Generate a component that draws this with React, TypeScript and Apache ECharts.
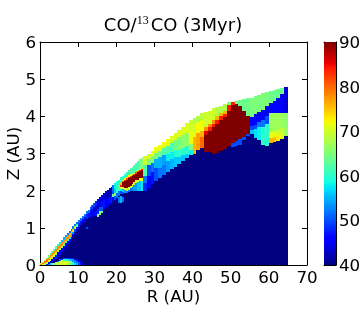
import React, { useEffect, useRef } from "react";
import * as echarts from "echarts";

const xTicks = [0, 70];
const zTicks = [0, 6];
const barRange = [40, 90];
const outerR = 65;
const FONT = "DejaVu Sans";

// Each row: [R, top of column, value, lower Z, value, lower Z, ...]; navy (40) fills below the last lower Z.
// A column runs from its R to the R of the next row.
const wedgeRows = [
  [0, 0.06, 70, 0.03, 78, 0],
  [0.5, 0.08, 66, 0.05, 80, 0.02, 70, 0],
  [1, 0.14, 66, 0.1, 80, 0.05, 70, 0],
  [1.5, 0.2, 66, 0.15, 80, 0.09, 70, 0.03, 48, 0],
  [2, 0.26, 64, 0.2, 78, 0.13, 72, 0.07, 46, 0.03, 52, 0],
  [2.5, 0.32, 64, 0.26, 78, 0.18, 70, 0.11, 44, 0.05, 56, 0],
  [3, 0.38, 64, 0.32, 78, 0.23, 70, 0.16, 44, 0.08, 40, 0.05, 62, 0],
  [3.5, 0.44, 62, 0.38, 78, 0.29, 70, 0.22, 46, 0.12, 40, 0.06, 66, 0],
  [4, 0.5, 62, 0.44, 78, 0.35, 68, 0.28, 48, 0.17, 40, 0.09, 68, 0],
  [4.5, 0.56, 60, 0.5, 78, 0.4, 68, 0.34, 46, 0.22, 40, 0.12, 52, 0.08, 69, 0],
  [5, 0.62, 58, 0.56, 78, 0.46, 66, 0.4, 46, 0.28, 40, 0.15, 50, 0.11, 70, 0],
  [5.5, 0.68, 56, 0.62, 78, 0.52, 66, 0.46, 46, 0.34, 40, 0.17, 50, 0.13, 70, 0],
  [6, 0.74, 55, 0.68, 78, 0.58, 64, 0.52, 46, 0.42, 40, 0.19, 50, 0.15, 60, 0.1, 71, 0],
  [6.5, 0.8, 54, 0.74, 78, 0.64, 62, 0.58, 46, 0.48, 40, 0.2, 50, 0.16, 60, 0.1, 70, 0],
  [7, 0.86, 52, 0.8, 78, 0.7, 60, 0.64, 46, 0.56, 40, 0.2, 48, 0.17, 58, 0.11, 68, 0],
  [7.5, 0.92, 52, 0.86, 77, 0.76, 58, 0.7, 45, 0.62, 40, 0.2, 48, 0.17, 56, 0.1, 66, 0],
  [8, 0.98, 52, 0.92, 76, 0.83, 56, 0.76, 45, 0.68, 40, 0.2, 48, 0.17, 55, 0.1, 64, 0],
  [8.5, 1.04, 52, 0.98, 74, 0.9, 54, 0.84, 44, 0.76, 40, 0.19, 47, 0.16, 54, 0.08, 60, 0],
  [9, 1.1, 52, 1.04, 70, 0.97, 50, 0.9, 44, 0.82, 40, 0.17, 46, 0.14, 53, 0.06, 57, 0],
  [9.5, 1.16, 52, 1.1, 62, 1.02, 48, 0.96, 43, 0.9, 40, 0.15, 46, 0.12, 52, 0.05, 55, 0],
  [10, 1.22, 52, 1.14, 48, 1.02, 43, 0.95, 40, 0.13, 45, 0.09, 50, 0],
  [10.5, 1.27, 52, 1.18, 47, 1.08, 40, 0.1, 45, 0.05, 47, 0],
  [11, 1.33, 52, 1.24, 46, 1.14, 40, 0.05, 44, 0],
  [11.5, 1.38, 52, 1.28, 46, 1.16, 40, 0.02, 43, 0],
];
const midRows = [
  [12, 1.44, 52, 1.36, 48, 1.24, 40, 1.03, 50, 0.97],
  [12.5, 1.49, 52, 1.4, 47, 1.27],
  [13, 1.55, 50, 1.44, 46, 1.28],
  [13.5, 1.61, 50, 1.5, 46, 1.3],
  [14, 1.67, 50, 1.56, 44, 1.42, 46, 1.32],
  [14.5, 1.72, 48, 1.6, 43, 1.46, 47, 1.32],
  [15, 1.78, 46, 1.62, 43, 1.5, 48, 1.38, 66, 1.28],
  [15.5, 1.83, 44, 1.66, 44, 1.55, 50, 1.44, 66, 1.34],
  [16, 1.88, 44, 1.7, 47, 1.56, 50, 1.46, 62, 1.4],
  [16.5, 1.93, 44, 1.74, 47, 1.5],
  [17, 1.98, 43, 1.76, 46, 1.55],
  [17.5, 2.02, 42, 1.8, 46, 1.6],
  [18, 2.07, 42, 1.84, 47, 1.64],
  [18.5, 2.11, 43, 1.9, 48, 1.68],
  [19, 2.15, 52, 2.0, 50, 1.9, 64, 1.82, 46, 1.72],
  [19.5, 2.2, 58, 2.05, 56, 1.95, 66, 1.85, 50, 1.76],
  [20, 2.25, 60, 2.1, 60, 1.95, 52, 1.8],
  [20.5, 2.3, 60, 2.15, 62, 2.0, 52, 1.85, 40, 1.82, 52, 1.68],
];
const blobRows = [
  [21, 2.36, 60, 2.24, 66, 2.2, 76, 2.16, 84, 2.09, 70, 2.05, 58, 1.98, 50, 1.9, 40, 1.85, 55, 1.68],
  [21.5, 2.4, 60, 2.3, 70, 2.26, 80, 2.23, 90, 2.1, 72, 2.05, 56, 1.97, 50, 1.9, 40, 1.84, 52, 1.7],
  [22, 2.45, 60, 2.34, 72, 2.3, 82, 2.27, 90, 2.08, 70, 2.02, 54, 1.95],
  [22.5, 2.5, 60, 2.37, 72, 2.33, 82, 2.3, 90, 2.07, 70, 2.0, 52, 1.95],
  [23, 2.55, 62, 2.41, 72, 2.36, 82, 2.33, 90, 2.09, 70, 2.03, 52, 1.96],
  [23.5, 2.6, 62, 2.44, 72, 2.4, 82, 2.37, 90, 2.12, 70, 2.06, 52, 1.98],
  [24, 2.65, 62, 2.44, 72, 2.41, 82, 2.39, 90, 2.17, 70, 2.1, 52, 2.0],
  [24.5, 2.7, 62, 2.48, 72, 2.45, 82, 2.42, 90, 2.22, 70, 2.14, 54, 2.0],
  [25, 2.74, 62, 2.52, 72, 2.49, 82, 2.46, 90, 2.28, 70, 2.2, 54, 2.0],
  [25.5, 2.8, 62, 2.56, 72, 2.52, 82, 2.5, 90, 2.3, 70, 2.24, 56, 2.0],
  [26, 2.84, 64, 2.58, 72, 2.56, 84, 2.53, 90, 2.33, 72, 2.26, 56, 2.0],
  [26.5, 2.88, 66, 2.6, 74, 2.58, 84, 2.55, 90, 2.35, 72, 2.27, 58, 2.0],
];
const shelfRows = [
  [27, 2.93, 70, 2.7, 62, 2.4, 52, 2.2, 48, 2.0],
  [28, 3.0, 70, 2.85, 65, 2.7, 50, 2.4, 46, 2.08],
  [29, 3.08, 72, 2.93, 66, 2.75, 52, 2.5, 47, 2.18],
  [30, 3.17, 72, 3.02, 65, 2.85, 55, 2.6, 50, 2.27],
  [31, 3.22, 72, 3.08, 64, 2.9, 55, 2.62, 52, 2.33],
  [32, 3.3, 72, 3.15, 62, 2.95, 54, 2.7, 52, 2.42],
  [33, 3.4, 72, 3.2, 62, 3.0, 58, 2.8, 54, 2.5],
  [34, 3.47, 71, 3.28, 62, 3.05, 58, 2.85, 55, 2.57],
  [35, 3.55, 71, 3.35, 64, 3.1, 60, 2.9, 56, 2.65],
  [36, 3.63, 71, 3.45, 65, 3.1, 60, 2.9, 56, 2.72],
  [37, 3.72, 71, 3.5, 66, 3.15, 60, 2.95, 56, 2.8],
  [38, 3.82, 71, 3.55, 66, 3.2, 60, 3.0, 56, 2.88],
  [39, 3.9, 70, 3.58, 72, 3.25, 66, 3.1, 58, 2.95],
];
const hotRows = [
  [40, 3.96, 68, 3.8, 71, 3.45, 76, 3.0],
  [41, 4.0, 68, 3.85, 72, 3.55, 77, 3.1],
  [42, 4.08, 69, 3.9, 72, 3.6, 76, 3.45, 80, 3.15],
  [43, 4.12, 70, 3.7, 78, 3.6, 86, 3.5, 90, 3.05],
  [44, 4.15, 70, 3.8, 78, 3.7, 84, 3.6, 90, 3.05],
  [45, 4.22, 70, 3.9, 78, 3.8, 84, 3.7, 90, 3.0],
  [46, 4.25, 68, 4.0, 76, 3.9, 84, 3.8, 90, 3.02],
  [47, 4.28, 68, 4.1, 76, 4.0, 84, 3.9, 90, 3.07],
  [48, 4.32, 68, 4.15, 76, 4.05, 84, 3.98, 90, 3.13],
  [49, 4.38, 66, 4.3, 84, 4.15, 90, 3.2],
  [50, 4.38, 84, 4.3, 90, 3.28, 50, 3.18],
  [51, 4.42, 64, 4.32, 90, 3.33, 50, 3.2],
  [52, 4.44, 64, 4.28, 90, 3.38, 50, 3.24],
  [53, 4.46, 64, 4.15, 90, 3.45, 50, 3.35],
  [54, 4.48, 64, 4.02, 90, 3.52, 50, 3.48],
];
const outerRows = [
  [55, 4.5, 65, 3.98, 46, 3.75, 50, 3.62, 56, 3.52],
  [56, 4.55, 65, 4.05, 46, 3.78, 50, 3.65, 57, 3.42],
  [57, 4.58, 65, 4.12, 46, 3.85, 52, 3.7, 58, 3.35],
  [58, 4.62, 65, 4.18, 46, 3.9, 52, 3.72, 60, 3.22],
  [59, 4.65, 65, 4.28, 45, 4.0, 50, 3.8, 60, 3.2],
  [60, 4.67, 64, 4.35, 46, 4.08, 67, 3.58, 72, 3.42, 76, 3.27],
  [61, 4.7, 64, 4.4, 46, 4.08, 67, 3.6, 71, 3.45, 75, 3.3],
  [62, 4.73, 64, 4.5, 46, 4.08, 67, 3.62, 70, 3.5, 73, 3.33],
  [63, 4.75, 64, 4.6, 46, 4.08, 67, 3.68, 69, 3.55, 71, 3.4],
  [64, 4.78, 44, 4.1, 66, 3.68, 67, 3.47],
];

const allRows = [...wedgeRows, ...midRows, ...blobRows, ...shelfRows, ...hotRows, ...outerRows];

function cellsFromRows(rows: number[][]) {
  const cells: number[][] = [];
  rows.forEach((row, n) => {
    const R = row[0];
    const next = n + 1 < rows.length ? rows[n + 1][0] : outerR;
    let top = row[1];
    for (let i = 2; i + 1 < row.length; i += 2) {
      cells.push([R, next, top, row[i + 1], row[i]]);
      top = row[i + 1];
    }
    if (top > 0) cells.push([R, next, top, 0, barRange[0]]);
  });
  return cells;
}

function piece(t: number, pts: number[][]) {
  if (t <= pts[0][0]) return pts[0][1];
  for (let i = 1; i < pts.length; i++) {
    if (t <= pts[i][0]) {
      const [a, b] = [pts[i - 1], pts[i]];
      return a[1] + ((t - a[0]) / (b[0] - a[0])) * (b[1] - a[1]);
    }
  }
  return pts[pts.length - 1][1];
}
const JET_R = [[0, 0], [0.35, 0], [0.66, 1], [0.89, 1], [1, 0.5]];
const JET_G = [[0, 0], [0.125, 0], [0.375, 1], [0.64, 1], [0.91, 0], [1, 0]];
const JET_B = [[0, 0.5], [0.11, 1], [0.34, 1], [0.65, 0], [1, 0]];
function jet(v: number) {
  const t = Math.max(0, Math.min(1, (v - barRange[0]) / (barRange[1] - barRange[0])));
  const c = (p: number[][]) => Math.round(piece(t, p) * 255);
  return `rgb(${c(JET_R)},${c(JET_G)},${c(JET_B)})`;
}

const barLevels: number[][] = [];
for (let v = barRange[0]; v < barRange[1]; v += 0.25) barLevels.push([v, v + 0.25]);

export default function App() {
  const ref = useRef<HTMLDivElement>(null);
  useEffect(() => {
    const chart = echarts.init(ref.current!, undefined, { renderer: "svg" });
    const axisLine = { show: true, onZero: false, lineStyle: { color: "#000", width: 1 } };
    const tick = { show: true, inside: true, length: 5, lineStyle: { color: "#000", width: 1 } };
    const label = { color: "#000", fontFamily: FONT, fontSize: 16.7, hideOverlap: false, showMinLabel: true, showMaxLabel: true };
    const nameStyle = { color: "#000", fontFamily: FONT, fontSize: 16.7 };
    const blank = { axisLabel: { show: false }, splitLine: { show: false } };
    chart.setOption({
      animation: false,
      title: {
        left: 168,
        top: 7,
        textAlign: "center",
        text: "{a|CO/}{s|13}{a|CO (3Myr)}",
        textStyle: {
          fontWeight: "normal",
          rich: {
            a: { fontFamily: FONT, fontSize: 18, fontWeight: "normal", color: "#000", lineHeight: 24 },
            s: { fontFamily: "Liberation Serif", fontSize: 12, fontWeight: "normal", color: "#000", padding: [0, 2, 9, 0], lineHeight: 24 },
          },
        },
      },
      grid: [
        { left: 40, top: 42, width: 267, height: 223, show: false, outerBoundsMode: "none", containLabel: false },
        { left: 324, top: 42, width: 12, height: 223, show: false, outerBoundsMode: "none", containLabel: false },
      ],
      xAxis: [
        { type: "value", gridIndex: 0, min: xTicks[0], max: xTicks[1], interval: 10, position: "bottom",
          name: "R (AU)", nameLocation: "middle", nameGap: 22, nameMoveOverlap: false, nameTextStyle: nameStyle,
          axisLine, axisTick: tick, axisLabel: { ...label, margin: 3 }, splitLine: { show: false } },
        { type: "value", gridIndex: 0, min: xTicks[0], max: xTicks[1], interval: 10, position: "top",
          axisLine, axisTick: tick, ...blank },
        { type: "value", gridIndex: 1, min: 0, max: 1, position: "bottom",
          axisLine, axisTick: { show: false }, ...blank },
        { type: "value", gridIndex: 1, min: 0, max: 1, position: "top",
          axisLine, axisTick: { show: false }, ...blank },
      ],
      yAxis: [
        { type: "value", gridIndex: 0, min: zTicks[0], max: zTicks[1], interval: 1, position: "left",
          name: "Z (AU)", nameLocation: "middle", nameGap: 19, nameMoveOverlap: false, nameTextStyle: nameStyle,
          axisLine, axisTick: tick, axisLabel: { ...label, margin: 4 }, splitLine: { show: false } },
        { type: "value", gridIndex: 0, min: zTicks[0], max: zTicks[1], interval: 1, position: "right",
          axisLine, axisTick: tick, ...blank },
        { type: "value", gridIndex: 1, min: barRange[0], max: barRange[1], interval: 10, position: "right",
          axisLine, axisTick: { ...tick, length: 3 }, axisLabel: { ...label, margin: 3 }, splitLine: { show: false } },
        { type: "value", gridIndex: 1, min: barRange[0], max: barRange[1], interval: 10, position: "left",
          axisLine, axisTick: { show: false }, ...blank },
      ],
      series: [
        {
          type: "custom",
          xAxisIndex: 0,
          yAxisIndex: 0,
          z: 1,
          encode: { x: [0, 1], y: [2, 3] },
          data: cellsFromRows(allRows),
          silent: true,
          renderItem: (_: any, api: any) => {
            const a = api.coord([api.value(0), api.value(2)]);
            const b = api.coord([api.value(1), api.value(3)]);
            const x0 = Math.round(a[0]), x1 = Math.round(b[0]);
            const y0 = Math.round(a[1]), y1 = Math.round(b[1]);
            return {
              type: "rect",
              shape: { x: x0, y: y0, width: x1 - x0, height: y1 - y0 },
              style: { fill: jet(api.value(4)) },
            };
          },
        },
        {
          type: "custom",
          xAxisIndex: 2,
          yAxisIndex: 2,
          z: 1,
          encode: { y: [0, 1] },
          data: barLevels,
          silent: true,
          renderItem: (_: any, api: any) => {
            const a = api.coord([0, api.value(1)]);
            const b = api.coord([1, api.value(0)]);
            return {
              type: "rect",
              shape: { x: a[0], y: Math.floor(a[1]), width: b[0] - a[0], height: Math.ceil(b[1]) - Math.floor(a[1]) },
              style: { fill: jet((api.value(0) + api.value(1)) / 2) },
            };
          },
        },
      ],
    });
    return () => chart.dispose();
  }, []);
  return <div ref={ref} style={{ position: "fixed", left: 0, top: 0, width: 364, height: 311 }} />;
}
